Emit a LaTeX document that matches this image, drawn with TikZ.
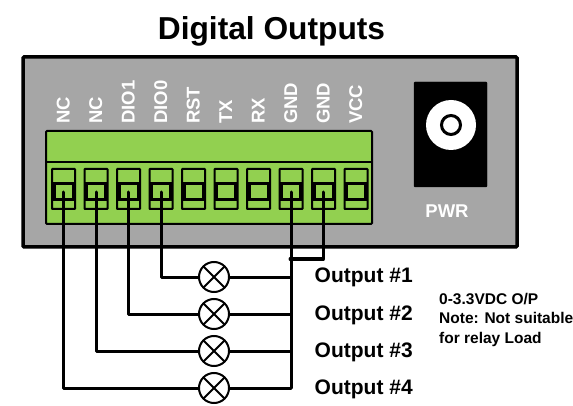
\documentclass[tikz,border=0pt]{standalone}
\usepackage{fontspec}
\setmainfont{Liberation Sans}
\definecolor{panelgray}{HTML}{A6A6A6}
\definecolor{blockgreen}{HTML}{92D050}
\tikzset{
  wire/.style={line width=3pt,line cap=round,line join=round},
  pinlabel/.style={text=white,rotate=90,anchor=base west,inner sep=0pt,font=\fontsize{18.5}{19}\selectfont\bfseries},
  outlabel/.style={anchor=base west,inner sep=0pt,font=\fontsize{21}{22}\selectfont\bfseries},
  notelabel/.style={anchor=base west,inner sep=0pt,font=\fontsize{15.5}{17}\selectfont\bfseries},
  lamp/.style={circle,draw,fill=white,line width=2pt,minimum size=30pt,inner sep=0pt,
    path picture={\draw[line width=2pt] (path picture bounding box.north west)--(path picture bounding box.south east)
      (path picture bounding box.north east)--(path picture bounding box.south west);}}
}
\begin{document}
\begin{tikzpicture}[x=1pt,y=-1pt]
  \useasboundingbox (0,0) rectangle (573,406);
  \node[anchor=base,inner sep=0pt,font=\fontsize{31.7}{33}\selectfont\bfseries] (title) at (271.5,40) {Digital Outputs};
  % board
  \draw[line width=3.5pt,fill=panelgray,rounded corners=1pt] (23,57) rectangle (517,247);
  \draw[line width=2pt,fill=blockgreen,rounded corners=1pt] (46,131) rectangle (372,224);
  \draw[line width=2pt] (46,162)--(372,162);
  % terminals and labels
  \foreach \i/\name in {1/NC,2/NC,3/DIO1,4/DIO0,5/RST,6/TX,7/RX,8/GND,9/GND,10/VCC}{
    \pgfmathsetmacro{\xpin}{63.5+32.5*(\i-1)}
    \draw[line width=2pt,rounded corners=0.5pt] (\xpin-11.5,169) rectangle (\xpin+11.5,209);
    \draw[line width=3pt] (\xpin-9.5,184) rectangle (\xpin+9.5,200);
    \coordinate (pin\i) at (\xpin,192);
    \node[pinlabel] (label\i) at (\xpin+6,124) {\name};
  }
  % power jack
  \draw[fill=black,rounded corners=1pt] (414,82) rectangle (487,187);
  \fill[white] (451,125) circle (25);
  \draw[line width=3pt,fill=white] (451,125) circle (9.5);
  \node[anchor=base,inner sep=0pt,text=white,font=\fontsize{18.5}{19}\selectfont\bfseries] (pwr) at (447,218) {PWR};
  % lamps
  \node[lamp] (lamp1) at (214,277) {};
  \node[lamp] (lamp2) at (214,314) {};
  \node[lamp] (lamp3) at (214,351) {};
  \node[lamp] (lamp4) at (214,388) {};
  % wiring
  \coordinate (gnd1) at (pin8 |- lamp1);
  \coordinate (gnd2) at (pin8 |- lamp2);
  \coordinate (gnd3) at (pin8 |- lamp3);
  \coordinate (gnd4) at (pin8 |- lamp4);
  \coordinate (tie) at (290,259);
  \draw[wire] (pin4) |- (lamp1);
  \draw[wire] (pin3) |- (lamp2);
  \draw[wire] (pin2) |- (lamp3);
  \draw[wire] (pin1) |- (lamp4);
  \draw[wire] (lamp1) -- (gnd1);
  \draw[wire] (lamp2) -- (gnd2);
  \draw[wire] (lamp3) -- (gnd3);
  \draw[wire] (lamp4) -- (gnd4);
  \draw[wire] (pin8) -- (gnd4);
  \draw[wire] (pin9) |- (tie);
  % output labels
  \node[outlabel] (out1) at (314.5,282) {Output \#1};
  \node[outlabel] (out2) at (314.5,320) {Output \#2};
  \node[outlabel] (out3) at (314.5,357) {Output \#3};
  \node[outlabel] (out4) at (314.5,394) {Output \#4};
  \node[notelabel] (note1) at (439,304) {0-3.3VDC O/P};
  \node[notelabel] (note2) at (439,323) {Note: Not suitable};
  \node[notelabel] (note3) at (439,343) {for relay Load};
\end{tikzpicture}
\end{document}
